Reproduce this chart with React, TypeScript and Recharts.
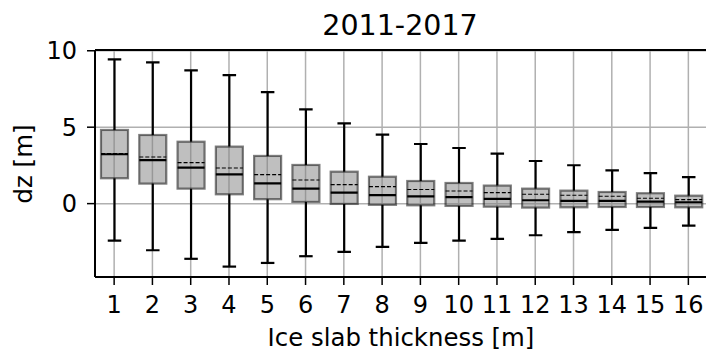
import React from "react";
import {
  Bar,
  CartesianGrid,
  ComposedChart,
  ReferenceLine,
  XAxis,
  YAxis,
} from "recharts";

const thickness = [1, 2, 3, 4, 5, 6, 7, 8, 9, 10, 11, 12, 13, 14, 15, 16];
const whiskerHigh = [9.44, 9.24, 8.72, 8.41, 7.3, 6.17, 5.25, 4.51, 3.9, 3.64, 3.27, 2.79, 2.51, 2.18, 2.0, 1.74];
const q3 = [4.82, 4.49, 4.05, 3.73, 3.12, 2.53, 2.09, 1.76, 1.48, 1.35, 1.18, 0.98, 0.85, 0.76, 0.68, 0.52];
const means = [3.27, 3.05, 2.68, 2.33, 1.9, 1.55, 1.24, 1.11, 0.92, 0.83, 0.72, 0.61, 0.55, 0.48, 0.35, 0.26];
const medians = [3.23, 2.84, 2.35, 1.92, 1.33, 0.98, 0.72, 0.55, 0.48, 0.42, 0.31, 0.22, 0.18, 0.18, 0.13, 0.09];
const q1 = [1.66, 1.31, 0.98, 0.61, 0.29, 0.11, -0.02, -0.08, -0.11, -0.15, -0.2, -0.26, -0.24, -0.22, -0.22, -0.24];
const whiskerLow = [-2.42, -3.05, -3.61, -4.12, -3.88, -3.44, -3.16, -2.83, -2.57, -2.42, -2.31, -2.07, -1.87, -1.72, -1.59, -1.44];

const yTicks = [0, 5, 10];
const Y_MIN = -4.8;
const Y_MAX = 10.05;

const data = thickness.map((t, i) => ({
  t,
  range: [whiskerLow[i], whiskerHigh[i]],
  lo: whiskerLow[i],
  hi: whiskerHigh[i],
  q1: q1[i],
  q3: q3[i],
  med: medians[i],
  mean: means[i],
}));

// draws one box from the range bar that recharts positioned
function BoxShape(props: any) {
  const { x, y, width, height } = props;
  const d = props.payload ?? props;
  const top = Math.min(y, y + height);
  const bottom = Math.max(y, y + height);
  const k = (bottom - top) / (d.hi - d.lo);
  const py = (v: number) => bottom - (v - d.lo) * k;
  const cx = x + width / 2;
  const cap = width / 2;
  return (
    <g>
      <line x1={cx} x2={cx} y1={py(d.q3)} y2={py(d.hi)} stroke="#000" strokeWidth={2.2} />
      <line x1={cx} x2={cx} y1={py(d.q1)} y2={py(d.lo)} stroke="#000" strokeWidth={2.2} />
      <line x1={cx - cap / 2} x2={cx + cap / 2} y1={py(d.hi)} y2={py(d.hi)} stroke="#000" strokeWidth={2.2} />
      <line x1={cx - cap / 2} x2={cx + cap / 2} y1={py(d.lo)} y2={py(d.lo)} stroke="#000" strokeWidth={2.2} />
      <rect
        x={x}
        y={py(d.q3)}
        width={width}
        height={py(d.q1) - py(d.q3)}
        fill="#808080"
        fillOpacity={0.5}
        stroke="#000"
        strokeOpacity={0.5}
        strokeWidth={2.2}
      />
      <line x1={x} x2={x + width} y1={py(d.med)} y2={py(d.med)} stroke="#000" strokeWidth={2.2} />
      <line
        x1={x}
        x2={x + width}
        y1={py(d.mean)}
        y2={py(d.mean)}
        stroke="#000"
        strokeWidth={1.1}
        strokeDasharray="4 2"
      />
    </g>
  );
}

export default function App() {
  const font = "'DejaVu Sans', sans-serif";
  return (
    <div
      style={{
        position: "absolute",
        left: 0,
        top: 0,
        width: 706,
        height: 353,
        overflow: "hidden",
        background: "#fff",
        fontFamily: font,
      }}
    >
      <ComposedChart
        width={712}
        height={353}
        data={data}
        margin={{ top: 50, right: 4.5, bottom: 46, left: 35 }}
      >
        <CartesianGrid stroke="#b0b0b0" strokeWidth={1.5} />
        <XAxis
          dataKey="t"
          type="category"
          height={30}
          axisLine={{ stroke: "#000", strokeWidth: 2 }}
          tickLine={{ stroke: "#000", strokeWidth: 1.5 }}
          tickSize={8}
          tickMargin={11}
          interval={0}
          tick={{ fill: "#000", fontSize: 24, fontFamily: font }}
        />
        <YAxis
          type="number"
          width={60}
          domain={[Y_MIN, Y_MAX]}
          ticks={yTicks}
          allowDataOverflow
          axisLine={{ stroke: "#000", strokeWidth: 2 }}
          tickLine={{ stroke: "#000", strokeWidth: 1.5 }}
          tickSize={8}
          tickMargin={10}
          tick={{ fill: "#000", fontSize: 24, fontFamily: font }}
        />
        <ReferenceLine y={Y_MAX} stroke="#000" strokeWidth={2} />
        <Bar dataKey="range" barSize={27} shape={BoxShape} isAnimationActive={false} />
      </ComposedChart>
      <svg
        width={706}
        height={353}
        style={{ position: "absolute", left: 0, top: 0, pointerEvents: "none" }}
      >
        <text x={400} y={35} textAnchor="middle" fontSize={28.5} fontFamily={font} fill="#000">
          2011-2017
        </text>
        <text x={401} y={345.5} textAnchor="middle" fontSize={24.4} fontFamily={font} fill="#000">
          Ice slab thickness [m]
        </text>
        <text
          x={31.5}
          y={164}
          textAnchor="middle"
          fontSize={24.4}
          fontFamily={font}
          fill="#000"
          transform="rotate(-90 31.5 164)"
        >
          dz [m]
        </text>
      </svg>
    </div>
  );
}
